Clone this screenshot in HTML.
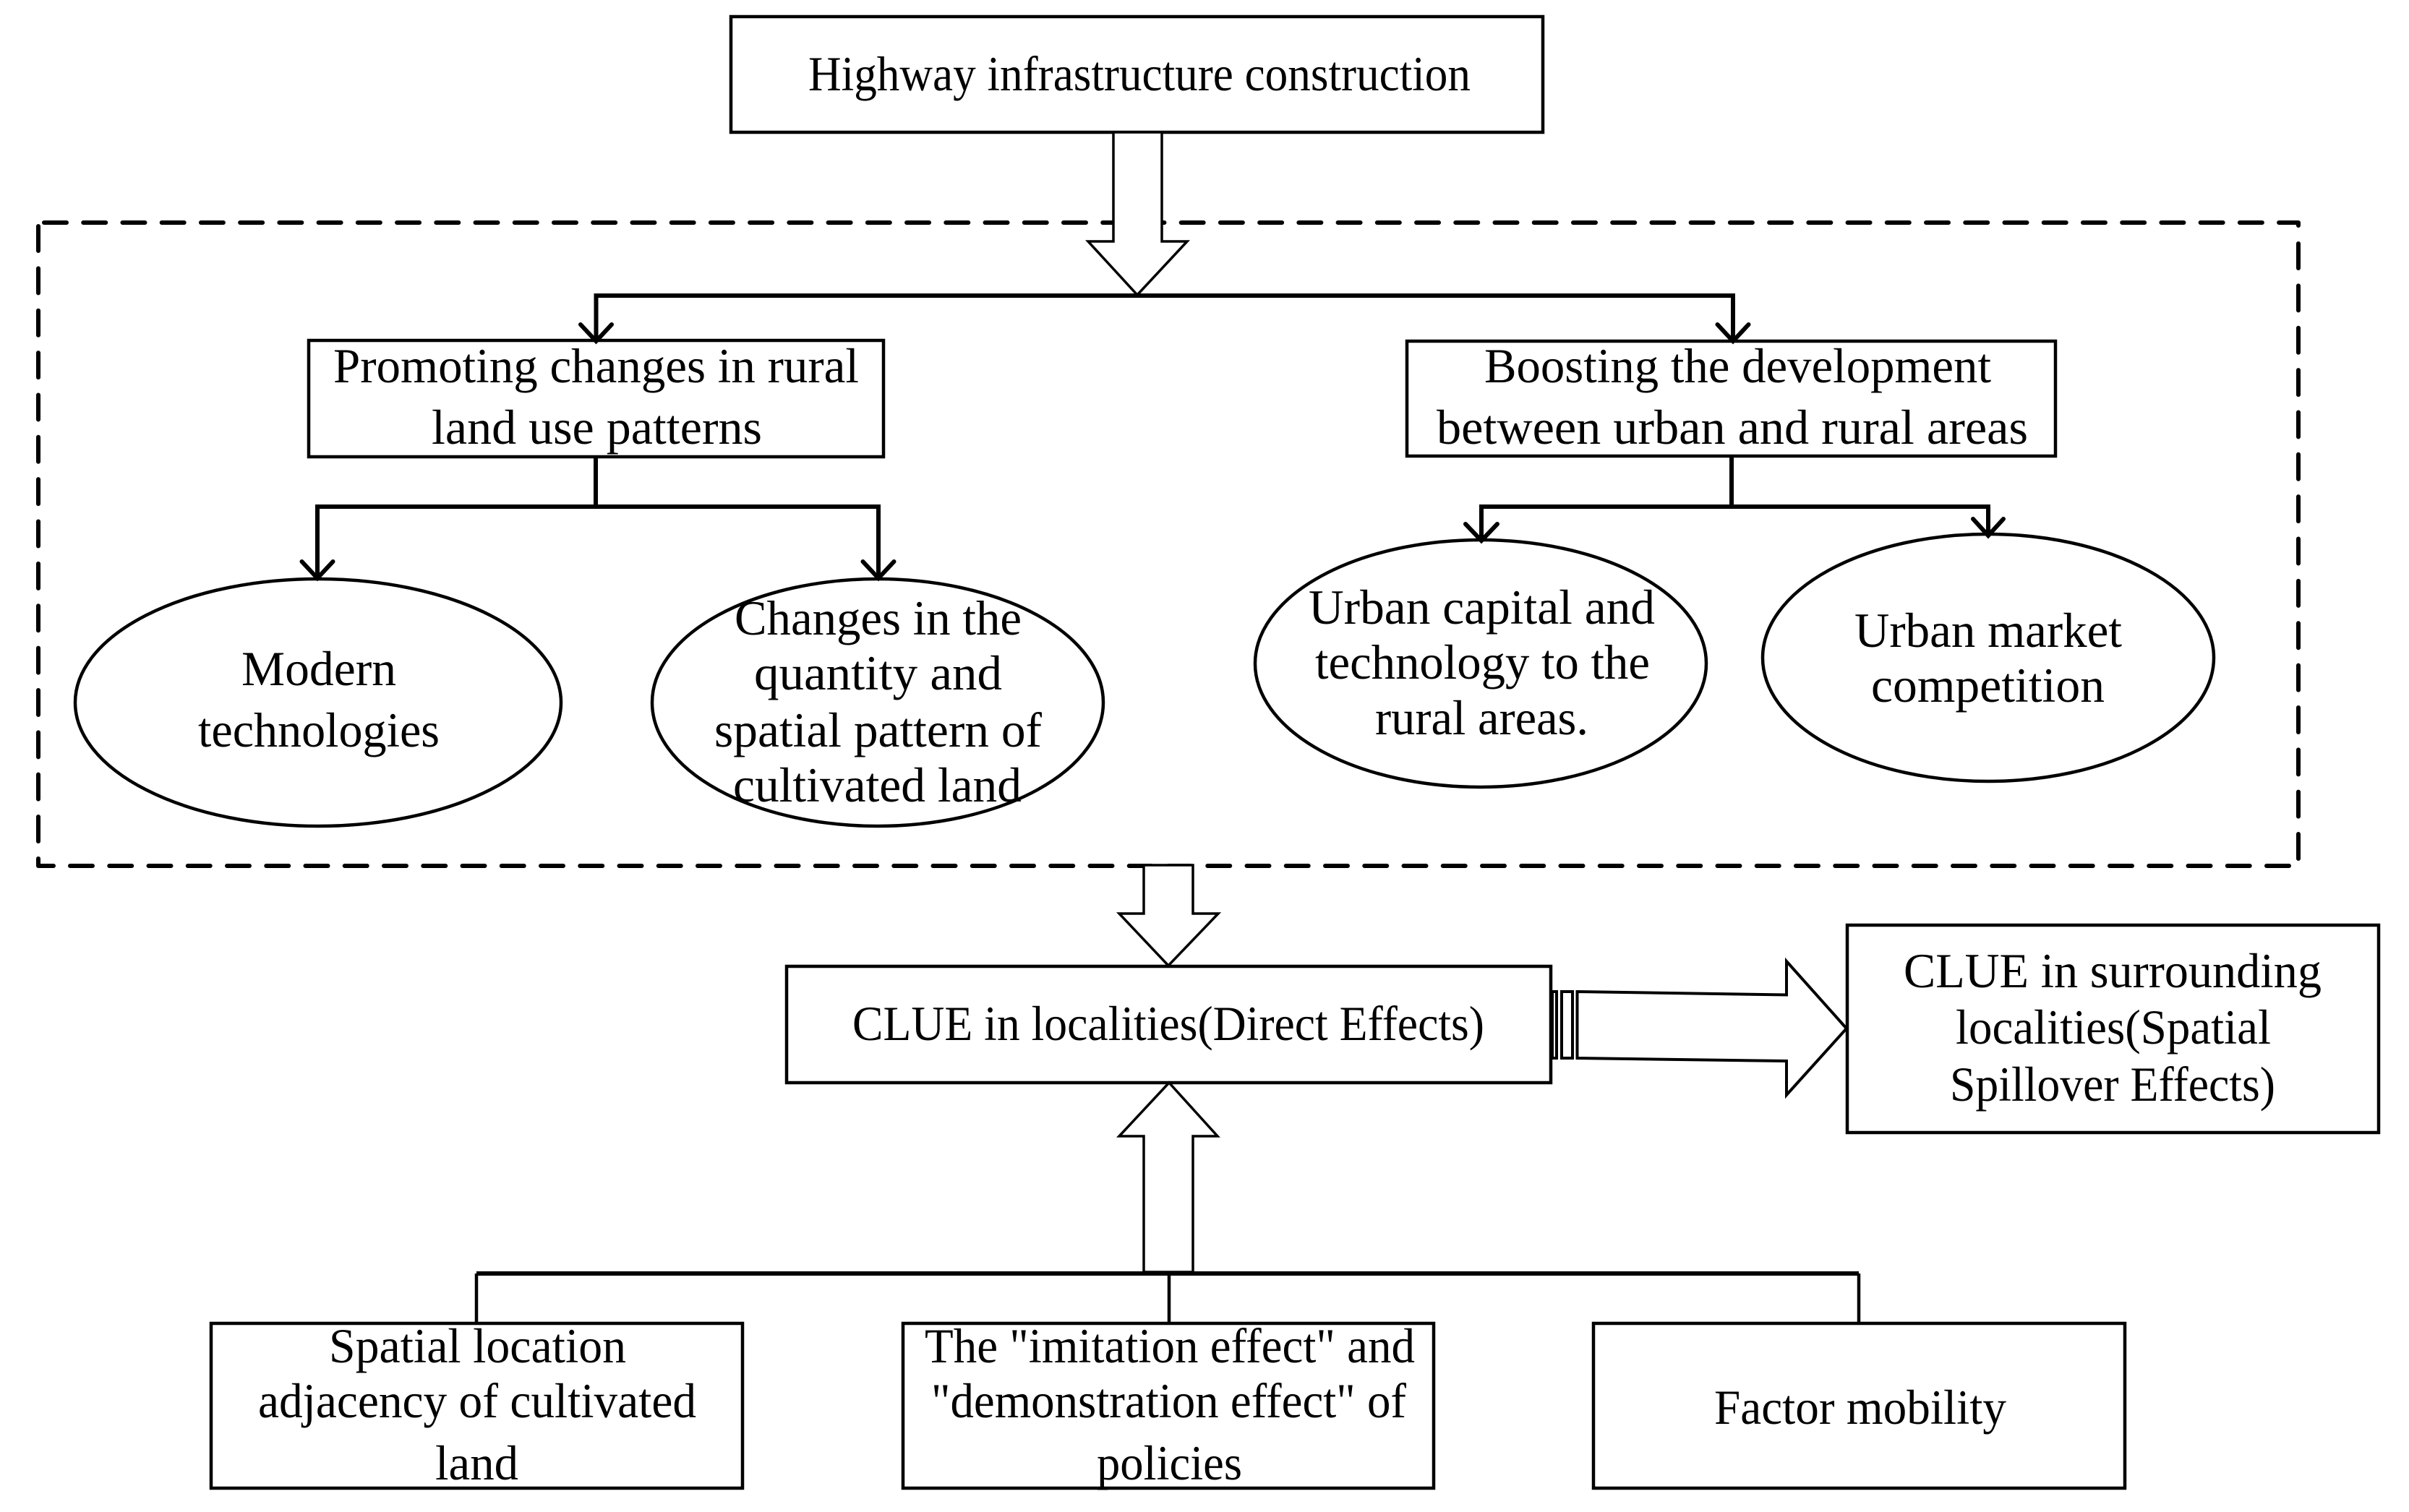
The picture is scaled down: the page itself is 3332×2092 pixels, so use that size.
<!DOCTYPE html>
<html><head><meta charset="utf-8"><style>
html,body{margin:0;padding:0;background:#fff}
svg{display:block}
text{font-family:"Liberation Serif",serif;font-size:68px;fill:#000}
.b{fill:#fff;stroke:#000;stroke-width:4.5}
.e{fill:#fff;stroke:#000;stroke-width:4.5}
.l{fill:none;stroke:#000;stroke-width:6}
.a{fill:none;stroke:#000;stroke-width:6;stroke-linecap:round;stroke-linejoin:miter}
.h{fill:#fff;stroke:#000;stroke-width:3.5}
.d{fill:none;stroke:#000;stroke-width:6;stroke-linecap:round;stroke-linejoin:round}
</style></head><body>
<svg xmlns="http://www.w3.org/2000/svg" width="3332" height="2092" viewBox="0 0 3332 2092">
<rect width="3332" height="2092" fill="#fff"/>
<!-- dashed frame -->
<path class="d" stroke-dasharray="31 23.23" d="M61 308H3179V312"/>
<path class="d" stroke-dasharray="34 24.36" d="M3179 337V1188"/>
<path class="d" stroke-dasharray="31 23.25" d="M97 1198H3166"/>
<path class="d" d="M53 1188V1198H74"/>
<path class="d" stroke-dasharray="34 24.36" d="M53 313V1164"/>
<!-- boxes -->
<rect class="b" x="1011" y="23" width="1123" height="160"/>
<rect class="b" x="427" y="471" width="795" height="161"/>
<rect class="b" x="1946" y="472" width="897" height="159"/>
<rect class="b" x="1088" y="1337" width="1057" height="161"/>
<rect class="b" x="2555" y="1280" width="735" height="287"/>
<rect class="b" x="292" y="1831" width="735" height="228"/>
<rect class="b" x="1249" y="1831" width="734" height="228"/>
<rect class="b" x="2204" y="1831" width="735" height="228"/>
<!-- ellipses -->
<ellipse class="e" cx="440" cy="972" rx="336" ry="171"/>
<ellipse class="e" cx="1214" cy="972" rx="312" ry="171"/>
<ellipse class="e" cx="2048" cy="918" rx="312" ry="171"/>
<ellipse class="e" cx="2750" cy="910" rx="312" ry="171"/>
<!-- tree connectors -->
<path class="l" d="M824.5 471V409H2397V471"/>
<path class="a" d="M803 449L824.5 472L846 449M2375.500 449L2397 472L2418.500 449"/>
<path class="l" d="M824 632V701M439 800V701H1215V800"/>
<path class="a" d="M417.500 777L439 800L460.500 777M1193.500 777L1215 800L1236.500 777"/>
<path class="l" d="M2395 631V701M2049 747V701H2750V739"/>
<path class="a" d="M2027 725L2049 748L2071 725M2729 718L2750 741L2771 718"/>
<path class="l" d="M659 1762H2571"/>
<path fill="none" stroke="#000" stroke-width="4.500" d="M659 1762V1833M1617 1762V1833M2571 1762V1833"/>
<!-- hollow arrows -->
<polygon class="h" points="1540,183 1607,183 1607,334 1642,334 1573,408 1505,334 1540,334"/>
<polygon class="h" points="1582,1197 1650,1197 1650,1264 1685,1264 1616,1336 1548,1264 1582,1264"/>
<polygon class="h" points="1617,1498 1684,1572 1650,1572 1650,1760 1582,1760 1582,1572 1548,1572"/>
<polygon fill="#fff" stroke="#000" stroke-width="4" points="2181.500,1372 2471,1376.500 2471,1330 2554,1423 2471,1515 2471,1468 2181.500,1464"/>
<rect x="2147" y="1372" width="6" height="92" fill="#fff" stroke="#000" stroke-width="4"/>
<rect x="2160" y="1372" width="15" height="92" fill="#fff" stroke="#000" stroke-width="4"/>
<!-- labels -->
<text x="1118" y="125" textLength="916" lengthAdjust="spacingAndGlyphs">Highway infrastructure construction</text>
<text x="461" y="529" textLength="727" lengthAdjust="spacingAndGlyphs">Promoting changes in rural</text>
<text x="597" y="614" textLength="457" lengthAdjust="spacingAndGlyphs">land use patterns</text>
<text x="2053" y="529" textLength="701" lengthAdjust="spacingAndGlyphs">Boosting the development</text>
<text x="1987" y="614" textLength="818" lengthAdjust="spacingAndGlyphs">between urban and rural areas</text>
<text x="334" y="948" textLength="214" lengthAdjust="spacingAndGlyphs">Modern</text>
<text x="274" y="1033" textLength="334" lengthAdjust="spacingAndGlyphs">technologies</text>
<text x="1016" y="878" textLength="397" lengthAdjust="spacingAndGlyphs">Changes in the</text>
<text x="1043" y="954" textLength="343" lengthAdjust="spacingAndGlyphs">quantity and</text>
<text x="988" y="1033" textLength="453" lengthAdjust="spacingAndGlyphs">spatial pattern of</text>
<text x="1014" y="1109" textLength="399" lengthAdjust="spacingAndGlyphs">cultivated land</text>
<text x="1810" y="863" textLength="479" lengthAdjust="spacingAndGlyphs">Urban capital and</text>
<text x="1819" y="939" textLength="463" lengthAdjust="spacingAndGlyphs">technology to the</text>
<text x="1902" y="1016" textLength="295" lengthAdjust="spacingAndGlyphs">rural areas.</text>
<text x="2565" y="895" textLength="370" lengthAdjust="spacingAndGlyphs">Urban market</text>
<text x="2588" y="971" textLength="323" lengthAdjust="spacingAndGlyphs">competition</text>
<text x="1179" y="1439" textLength="874" lengthAdjust="spacingAndGlyphs">CLUE in localities(Direct Effects)</text>
<text x="2633" y="1366" textLength="578" lengthAdjust="spacingAndGlyphs">CLUE in surrounding</text>
<text x="2705" y="1444" textLength="436" lengthAdjust="spacingAndGlyphs">localities(Spatial</text>
<text x="2697" y="1523" textLength="450" lengthAdjust="spacingAndGlyphs">Spillover Effects)</text>
<text x="455" y="1885" textLength="411" lengthAdjust="spacingAndGlyphs">Spatial location</text>
<text x="357" y="1961" textLength="606" lengthAdjust="spacingAndGlyphs">adjacency of cultivated</text>
<text x="602" y="2047" textLength="115" lengthAdjust="spacingAndGlyphs">land</text>
<text x="1279" y="1885" textLength="678" lengthAdjust="spacingAndGlyphs">The "imitation effect" and</text>
<text x="1288" y="1961" textLength="657" lengthAdjust="spacingAndGlyphs">"demonstration effect" of</text>
<text x="1517" y="2047" textLength="201" lengthAdjust="spacingAndGlyphs">policies</text>
<text x="2371" y="1970" textLength="404" lengthAdjust="spacingAndGlyphs">Factor mobility</text>
</svg>
</body></html>
